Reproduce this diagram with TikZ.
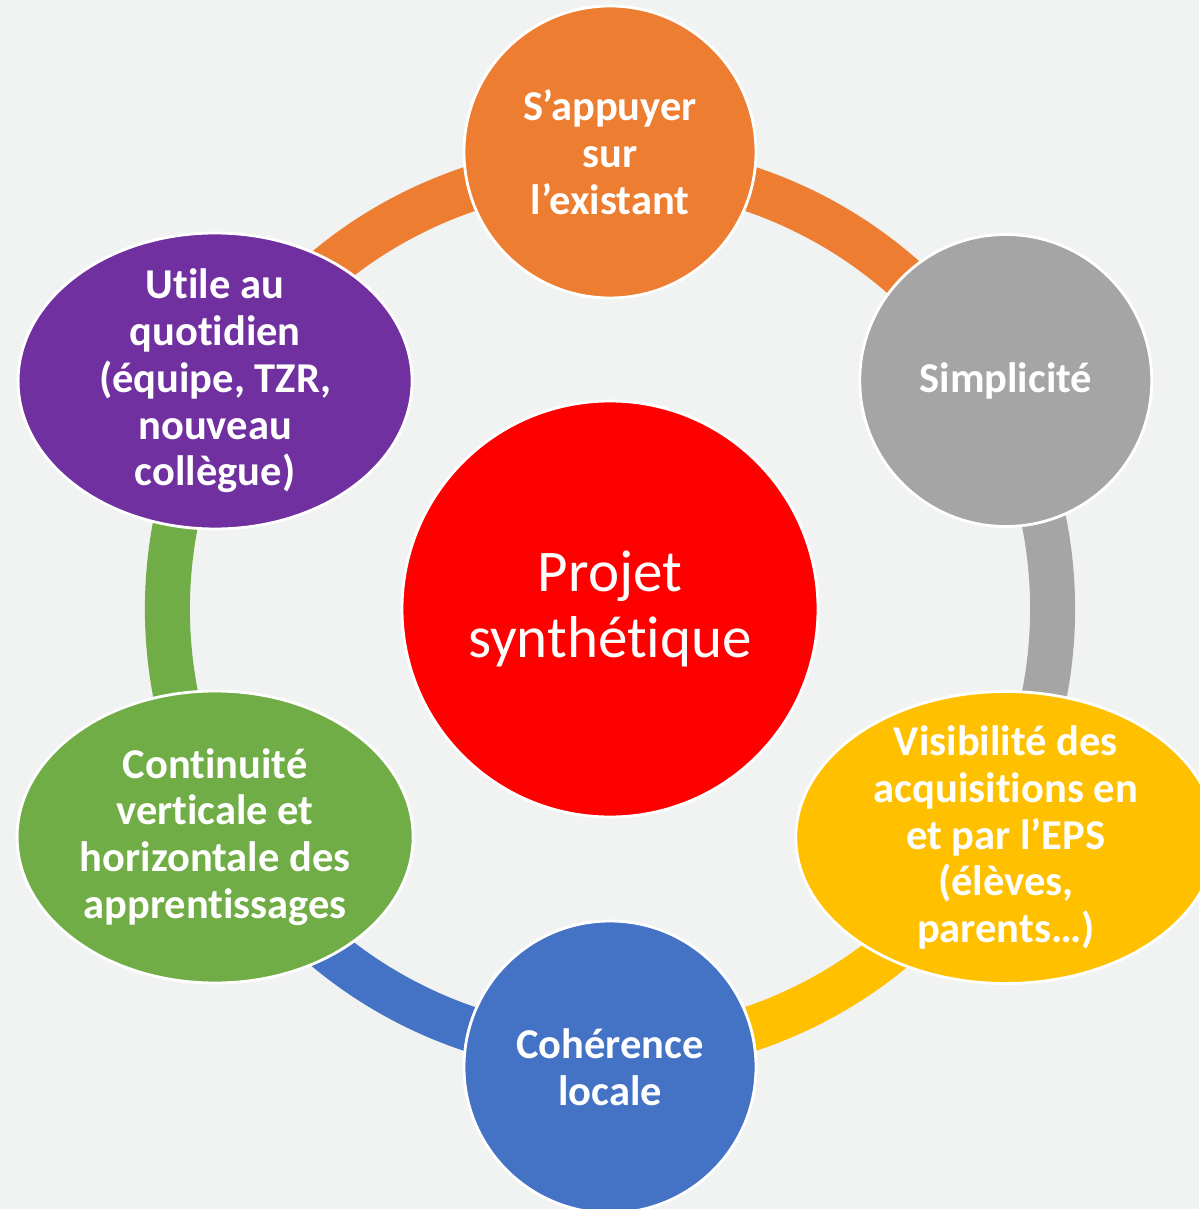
\documentclass[tikz,border=0pt]{standalone}
\usepackage{fontspec}
\setmainfont{Carlito}[Ligatures=NoCommon]
\usetikzlibrary{shapes.geometric}

\definecolor{cback}{RGB}{241,242,242}
\definecolor{corange}{HTML}{ED7D31}
\definecolor{cgray}{HTML}{A5A5A5}
\definecolor{cyellow}{HTML}{FFC000}
\definecolor{cblue}{HTML}{4472C4}
\definecolor{cgreen}{HTML}{70AD47}
\definecolor{cpurple}{HTML}{7030A0}
\definecolor{cred}{HTML}{FF0000}

\begin{document}
\begin{tikzpicture}[x=0.1mm, y=0.1mm,
        ring/.style={line width=4.5mm},
        bubble/.style={draw=white, line width=0.8pt, inner sep=0pt, text=white, align=center,
            font=\fontsize{12.1}{13.3}\selectfont\bfseries},
        lbl/.style={text=white, align=center, inner sep=0pt,
            font=\fontsize{12.1}{13.3}\selectfont\bfseries}]

        % background
        \fill[cback] (-610,-600) rectangle (589,609);
        \useasboundingbox (-610,-600) rectangle (589,609);

        % ring
        \foreach \a/\n in {90/r1, 30/r2, -30/r3, -90/r4, 210/r5, 150/r6}
            \coordinate (\n) at (\a:443);
        \foreach \s/\e/\c in {r1/r2/corange, r2/r3/cgray, r3/r4/cyellow, r4/r5/cblue, r5/r6/cgreen, r6/r1/corange}
            \draw[ring, \c] (\s) to[bend left=30, looseness=0.91] (\e);

        % centre
        \node[bubble, circle, fill=cred, minimum size=41.6mm, font=\fontsize{16.8}{18.6}\selectfont] (projet) at (0,0) {Projet\\synthétique};

        % outer nodes
        \node[bubble, circle, fill=corange, minimum size=29.2mm] (appui) at (90:457) {S’appuyer\\sur\\l’existant};
        \node[bubble, circle, fill=cgray, minimum size=29.2mm] (simple) at (30:457) {Simplicité};
        \node[bubble, ellipse, fill=cyellow, minimum width=42mm, minimum height=29.2mm,
            label={[lbl]center:{Visibilité des\\acquisitions en\\et par l’EPS\\(élèves,\\parents…)}}] (visib) at (-30:457) {};
        \node[bubble, circle, fill=cblue, minimum size=29.2mm] (coher) at (-90:458) {Cohérence\\locale};
        \node[bubble, ellipse, fill=cgreen, minimum width=39.6mm, minimum height=29.2mm,
            label={[lbl]center:{Continuité\\verticale et\\horizontale des\\apprentissages}}] (contin) at (210:456) {};
        \node[bubble, ellipse, fill=cpurple, minimum width=39.4mm, minimum height=29.6mm,
            label={[lbl]center:{Utile au\\quotidien\\(équipe, TZR,\\nouveau\\collègue)}}] (utile) at (150:456) {};
    \end{tikzpicture}
\end{document}
